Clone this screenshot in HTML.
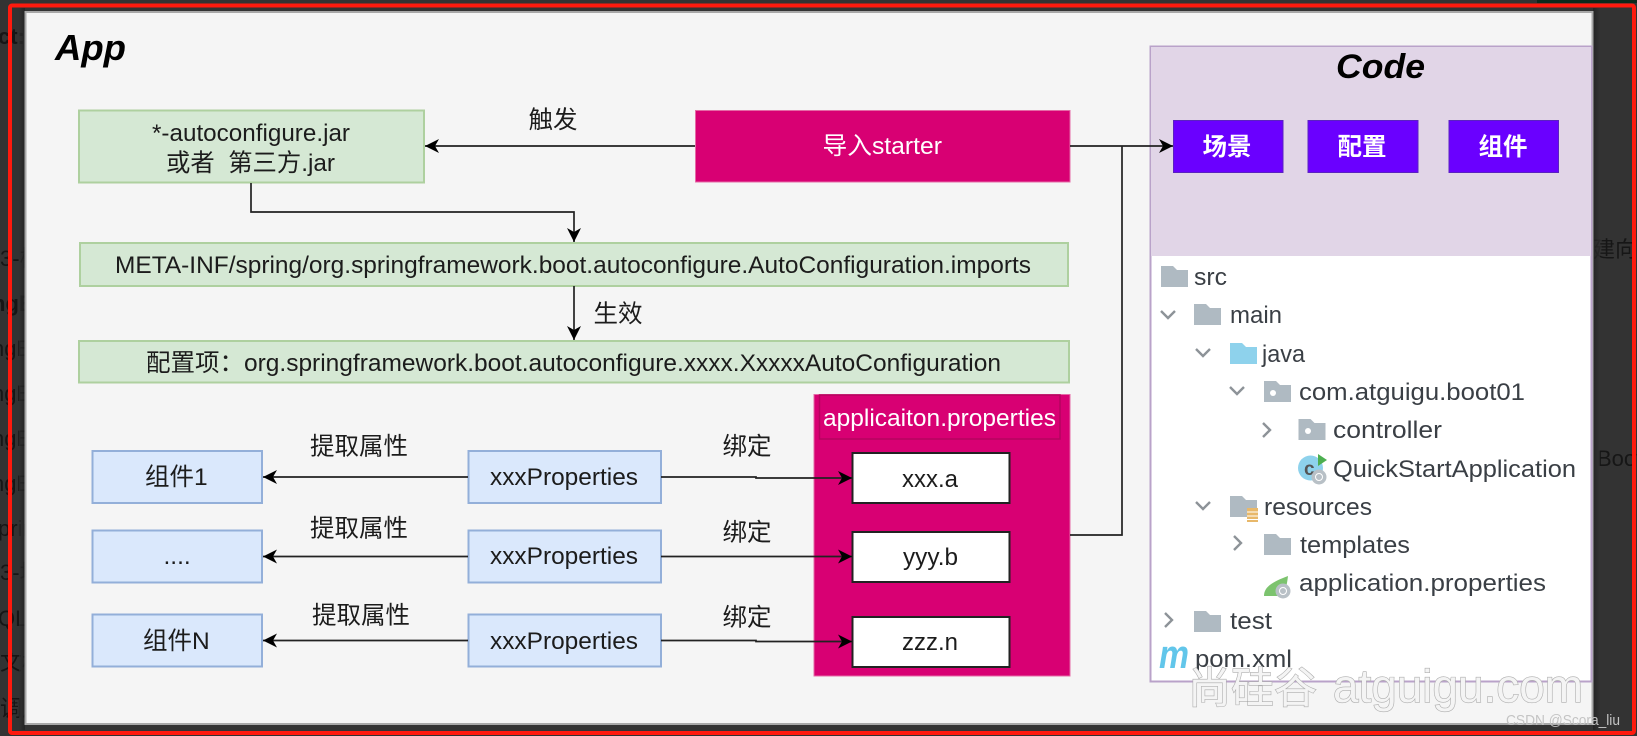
<!DOCTYPE html>
<html><head><meta charset="utf-8">
<style>
html,body{margin:0;padding:0;background:#333;width:1637px;height:736px;overflow:hidden}
svg{display:block}
text{font-family:"Liberation Sans","Noto Sans CJK SC",sans-serif;fill:#1c1c1c}
.c{font-size:24.5px}
.t{font-size:24px;fill:#3a3f45;font-family:"Liberation Sans",sans-serif}
.w{fill:#fff}
.bg{fill:#161616;font-size:22px}
.f{fill:#afbac2}
.ch{fill:none;stroke:#8d9398;stroke-width:2.4}
.l{fill:none;stroke:#222;stroke-width:1.7}
.gr{fill:#d5e8d4;stroke:#aed09f;stroke-width:2}
.bl{fill:#dae8fc;stroke:#93afd9;stroke-width:2}
.wh{fill:#fff;stroke:#222;stroke-width:2}
.wm{fill:#f4f4f4;stroke:#adadad;stroke-width:1.2;paint-order:stroke}
</style></head>
<body>
<svg width="1637" height="736" viewBox="0 0 1637 736" xmlns="http://www.w3.org/2000/svg">
<defs>
<marker id="a" markerUnits="userSpaceOnUse" markerWidth="16" markerHeight="14" refX="14" refY="7" orient="auto"><path d="M0 0L14 7L0 14L4 7Z" fill="#000"/></marker>
<linearGradient id="sl" x1="0" x2="1" y1="0" y2="0"><stop offset="0" stop-color="#333"/><stop offset="1" stop-color="#1e1e1e"/></linearGradient>
<linearGradient id="sr" x1="0" x2="1" y1="0" y2="0"><stop offset="0" stop-color="#1e1e1e"/><stop offset="1" stop-color="#333"/></linearGradient>
</defs>
<rect width="1637" height="736" fill="#333"/>
<rect x="1537" y="0" width="100" height="3" fill="#0c2a1c"/>
<!-- background fragments -->
<text class="bg" x="-2" y="44" style="font-weight:bold">ct:</text>
<text class="bg" x="0" y="266">3-核</text>
<text class="bg" x="-8" y="311" style="font-weight:bold">ngB</text>
<text class="bg" x="-8" y="356">ngB</text>
<text class="bg" x="-8" y="401">ngB</text>
<text class="bg" x="-8" y="446">ngB</text>
<text class="bg" x="-8" y="491">ngB</text>
<text class="bg" x="-2" y="536">prin</text>
<text class="bg" x="0" y="580">3-场</text>
<text class="bg" x="-2" y="626">QL</text>
<text class="bg" x="0" y="670">文档</text>
<text class="bg" x="0" y="716">调用</text>
<text class="bg" x="1593" y="257">建向导</text>
<text class="bg" x="1597" y="466">Boot</text>
<rect x="19" y="8" width="6" height="722" fill="url(#sl)" opacity=".7"/>
<rect x="1593" y="8" width="7" height="722" fill="url(#sr)" opacity=".7"/>
<!-- app panel -->
<rect x="25.5" y="12" width="1567" height="712" fill="#f5f5f5" stroke="#a8a8a8" stroke-width="2"/>
<!-- code panel -->
<rect x="1150.5" y="46.5" width="441" height="635" fill="#fff" stroke="#b9a2c9" stroke-width="2"/>
<rect x="1151" y="47" width="440" height="209" fill="#e1d5e7"/>
<text x="55" y="60" style="font-size:36px;font-weight:bold;font-style:italic;fill:#000" textLength="71" lengthAdjust="spacingAndGlyphs">App</text>
<text x="1336" y="78" style="font-size:34px;font-weight:bold;font-style:italic;fill:#000" textLength="89" lengthAdjust="spacingAndGlyphs">Code</text>

<!-- boxes -->
<rect class="gr" x="79" y="110.5" width="345" height="72"/>
<rect class="gr" x="80" y="243" width="988" height="43"/>
<rect class="gr" x="79" y="341" width="990" height="41.5"/>
<rect x="695.5" y="110.5" width="374.5" height="71.5" fill="#d80073" stroke="#e56aa6"/>
<rect x="814" y="394.5" width="256" height="281.5" fill="#d80073" stroke="#e56aa6"/>
<rect x="819.5" y="395" width="240.5" height="44" fill="#d80073" stroke="#b5045f" stroke-width="1.5"/>
<rect class="wh" x="852.5" y="453" width="157" height="50"/>
<rect class="wh" x="852.5" y="532" width="157" height="50"/>
<rect class="wh" x="852.5" y="617" width="157" height="50"/>
<rect class="bl" x="92.5" y="451" width="169.5" height="52"/>
<rect class="bl" x="92.5" y="530.5" width="169.5" height="52"/>
<rect class="bl" x="92.5" y="614.5" width="169.5" height="52"/>
<rect class="bl" x="468.5" y="451" width="192.5" height="52"/>
<rect class="bl" x="468.5" y="530.5" width="192.5" height="52"/>
<rect class="bl" x="468.5" y="614.5" width="192.5" height="52"/>
<rect x="1173.5" y="120.5" width="109.500" height="52" fill="#6a00ff" stroke="#5a22c0"/>
<rect x="1308" y="120.5" width="110" height="52" fill="#6a00ff" stroke="#5a22c0"/>
<rect x="1449" y="120.5" width="109.500" height="52" fill="#6a00ff" stroke="#5a22c0"/>

<!-- connectors -->
<path class="l" d="M695 146H425" marker-end="url(#a)"/>
<path class="l" d="M1070 146H1173" marker-end="url(#a)"/>
<path class="l" d="M1070 535H1122V146"/>
<path class="l" d="M251 183V212H574V242" marker-end="url(#a)"/>
<path class="l" d="M574 286V340" marker-end="url(#a)"/>
<path class="l" d="M468 477H263" marker-end="url(#a)"/>
<path class="l" d="M468 556.500H263" marker-end="url(#a)"/>
<path class="l" d="M468 640.500H263" marker-end="url(#a)"/>
<path class="l" d="M661 477H756V478H852" marker-end="url(#a)"/>
<path class="l" d="M661 556.500H852" marker-end="url(#a)"/>
<path class="l" d="M661 640.500H756V641.500H852" marker-end="url(#a)"/>

<!-- labels -->
<text class="c" x="152" y="141" textLength="198" lengthAdjust="spacingAndGlyphs">*-autoconfigure.jar</text>
<text class="c" x="166" y="171" textLength="169" lengthAdjust="spacingAndGlyphs" xml:space="preserve">或者  第三方.jar</text>
<text class="c" x="528.500" y="128">触发</text>
<text class="c w" x="822.500" y="154" textLength="119.500" lengthAdjust="spacingAndGlyphs">导入starter</text>
<text class="c" x="115" y="273" textLength="916" lengthAdjust="spacingAndGlyphs">META-INF/spring/org.springframework.boot.autoconfigure.AutoConfiguration.imports</text>
<text class="c" x="593.500" y="322">生效</text>
<text class="c" x="146" y="371" textLength="855" lengthAdjust="spacingAndGlyphs">配置项：org.springframework.boot.autoconfigure.xxxx.XxxxxAutoConfiguration</text>
<text class="c" x="310" y="454.500">提取属性</text>
<text class="c" x="310" y="536.500">提取属性</text>
<text class="c" x="312" y="623.500">提取属性</text>
<text class="c" x="722.500" y="454.500">绑定</text>
<text class="c" x="722.500" y="540.500">绑定</text>
<text class="c" x="722.500" y="625.500">绑定</text>
<text class="c" x="145" y="485">组件1</text>
<text class="c" x="163.500" y="564">....</text>
<text class="c" x="143" y="649">组件N</text>
<text class="c" x="490" y="485" textLength="148" lengthAdjust="spacingAndGlyphs">xxxProperties</text>
<text class="c" x="490" y="564" textLength="148" lengthAdjust="spacingAndGlyphs">xxxProperties</text>
<text class="c" x="490" y="649" textLength="148" lengthAdjust="spacingAndGlyphs">xxxProperties</text>
<text class="c w" x="823" y="426" textLength="233" lengthAdjust="spacingAndGlyphs">applicaiton.properties</text>
<text class="c" x="902" y="487" textLength="56" lengthAdjust="spacingAndGlyphs">xxx.a</text>
<text class="c" x="903" y="565" textLength="55" lengthAdjust="spacingAndGlyphs">yyy.b</text>
<text class="c" x="902" y="650" textLength="56" lengthAdjust="spacingAndGlyphs">zzz.n</text>
<text class="c w" x="1202.500" y="155" style="font-weight:bold">场景</text>
<text class="c w" x="1337.500" y="155" style="font-weight:bold">配置</text>
<text class="c w" x="1478.500" y="155" style="font-weight:bold">组件</text>

<!-- tree -->
<g id="tree">
<path class="f" d="M1161 266h12l4 4h11v17h-27z"/>
<path class="f" d="M1194 304h12l4 4h11v17h-27z"/>
<path d="M1230 343h12l4 4h11v17h-27z" fill="#8ed2ec"/>
<path class="f" d="M1264 381h12l4 4h11v17h-27z"/>
<circle cx="1273" cy="393" r="3" fill="#fff"/>
<path class="f" d="M1298.500 419h12l4 4h11v17h-27z"/>
<circle cx="1308" cy="431" r="3" fill="#fff"/>
<path class="f" d="M1230 496h12l4 4h11v17h-27z"/>
<rect x="1247" y="508" width="11" height="14" fill="#e8b86a"/>
<path d="M1247 512h11M1247 516h11M1247 519.500h11" stroke="#fff" stroke-width="1"/>
<path class="f" d="M1264 534h12l4 4h11v17h-27z"/>
<path class="f" d="M1194 611h12l4 4h11v17h-27z"/>
<path class="ch" d="M1161 311l7 7 7-7"/>
<path class="ch" d="M1196 349l7 7 7-7"/>
<path class="ch" d="M1230 387l7 7 7-7"/>
<path class="ch" d="M1263 423l7 7-7 7"/>
<path class="ch" d="M1196 502l7 7 7-7"/>
<path class="ch" d="M1234 536l7 7-7 7"/>
<path class="ch" d="M1165 613l7 7-7 7"/>
<circle cx="1310.500" cy="468" r="12.500" fill="#8ed2ec"/>
<text x="1304" y="475" style="font-size:19px;fill:#555;font-weight:bold">c</text>
<path d="M1318 454l9 6-9 6z" fill="#4caf50"/>
<circle cx="1319" cy="477" r="7.500" fill="#b8c0c6"/>
<circle cx="1319" cy="477" r="3.500" fill="none" stroke="#fff" stroke-width="1"/>
<path d="M1264 596c0-9 8-14 24-20c-1 8 -2 18-10 20z" fill="#7cc36e"/>
<circle cx="1283" cy="591" r="7.500" fill="#b8c0c6"/>
<circle cx="1283" cy="591" r="3.500" fill="none" stroke="#fff" stroke-width="1"/>
<text class="t" x="1194" y="285" textLength="33" lengthAdjust="spacingAndGlyphs">src</text>
<text class="t" x="1230" y="323" textLength="52" lengthAdjust="spacingAndGlyphs">main</text>
<text class="t" x="1262" y="362" textLength="43" lengthAdjust="spacingAndGlyphs">java</text>
<text class="t" x="1299" y="400" textLength="226" lengthAdjust="spacingAndGlyphs">com.atguigu.boot01</text>
<text class="t" x="1333" y="438" textLength="109" lengthAdjust="spacingAndGlyphs">controller</text>
<text class="t" x="1333" y="477" textLength="243" lengthAdjust="spacingAndGlyphs">QuickStartApplication</text>
<text class="t" x="1264" y="515" textLength="108" lengthAdjust="spacingAndGlyphs">resources</text>
<text class="t" x="1300" y="553" textLength="110" lengthAdjust="spacingAndGlyphs">templates</text>
<text class="t" x="1299" y="591" textLength="247" lengthAdjust="spacingAndGlyphs">application.properties</text>
<text class="t" x="1230" y="629" textLength="42" lengthAdjust="spacingAndGlyphs">test</text>
<text class="t" x="1195" y="667" textLength="97" lengthAdjust="spacingAndGlyphs">pom.xml</text>
<text x="1159" y="668" style="font-size:40px;font-weight:bold;font-style:italic;fill:#62c6ea" textLength="30" lengthAdjust="spacingAndGlyphs">m</text>
</g>

<!-- watermark -->
<text class="wm" x="1188" y="703" style="font-size:43px">尚硅谷</text>
<text class="wm" x="1333" y="702" style="font-size:46px" textLength="250" lengthAdjust="spacingAndGlyphs">atguigu.com</text>
<text x="1506" y="725" style="font-size:15px;fill:#c4c4c4" textLength="114" lengthAdjust="spacingAndGlyphs">CSDN @Scora_liu</text>

<!-- red frame -->
<rect x="10" y="5.500" width="1624" height="727.500" rx="2" fill="none" stroke="#ff1a0e" stroke-width="4"/>
</svg>
</body></html>
